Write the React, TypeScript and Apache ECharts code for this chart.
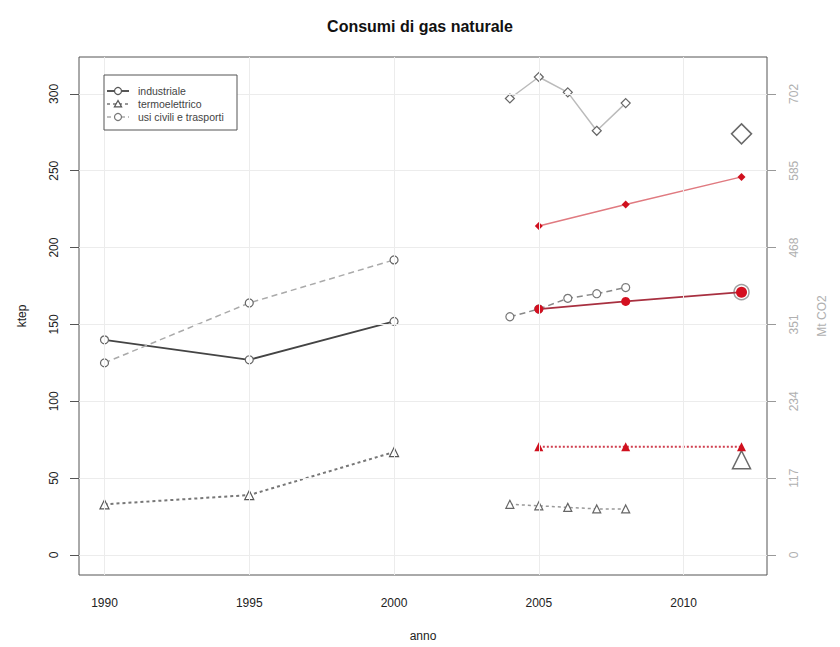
import React, { useEffect, useRef } from "react";
import * as echarts from "echarts";

const titleText = "Consumi di gas naturale";
const xTicks = [1990, 1995, 2000, 2005, 2010];
const leftTicks = [0, 50, 100, 150, 200, 250, 300];
const rightTicks = [0, 117, 234, 351, 468, 585, 702];
const co2Factor = 2.34;

const years1 = [1990, 1995, 2000];
const industriale1 = [140, 127, 152];
const usiCivili1 = [125, 164, 192];
const termo1 = [33, 39, 67];

const years2 = [2004, 2005, 2006, 2007, 2008];
const upper2 = [297, 311, 301, 276, 294];
const middle2 = [155, 160, 167, 170, 174];
const lower2 = [33, 32, 31, 30, 30];

const yearsRed = [2005, 2008, 2012];
const redDiamond = [214, 228, 246];
const redCircle = [160, 165, 171];
const redTriangle = [70.5, 70.5, 70.5];

const targetYear = 2012;
const targetDiamond = 274;
const targetCircle = 171;
const targetTriangle = 62;

const legendNames = ["industriale", "termoelettrico", "usi civili e trasporti"];

const pairs = (xs: number[], ys: number[]) => xs.map((x, i) => [x, ys[i]]);

const FONT = "Liberation Sans, Arial, Helvetica, sans-serif";

export default function App() {
  const ref = useRef<HTMLDivElement>(null);
  useEffect(() => {
    if (!ref.current) return;
    const chart = echarts.init(ref.current, undefined, { renderer: "svg" });
    const openItem = (border: string, w = 1.2) => ({
      color: "#ffffff",
      borderColor: border,
      borderWidth: w,
    });
    const legendX1 = 107;
    const legendX2 = 129;
    const legendMX = 118;
    const rows = [91, 104, 117];
    const tri = (cx: number, cy: number, s: number) => [
      [cx, cy - s],
      [cx - s * 0.9, cy + s * 0.6],
      [cx + s * 0.9, cy + s * 0.6],
    ];
    const option: any = {
      animation: false,
      backgroundColor: "#ffffff",
      textStyle: { fontFamily: FONT },
      title: {
        text: titleText,
        left: "center",
        top: 13,
        textStyle: { fontSize: 16, fontWeight: "bold", color: "#111", fontFamily: FONT },
      },
      grid: {
        left: 79,
        right: 73,
        top: 57,
        bottom: 71,
        show: true,
        borderColor: "#555",
        borderWidth: 1,
        backgroundColor: "transparent",
      },
      xAxis: {
        type: "value",
        min: 1989.12,
        max: 2012.88,
        name: "anno",
        nameLocation: "middle",
        nameGap: 55,
        nameTextStyle: { fontSize: 12, color: "#222", fontFamily: FONT },
        axisLine: { show: false },
        axisTick: { show: true, length: 9, customValues: xTicks, lineStyle: { color: "#555" } },
        axisLabel: {
          customValues: xTicks,
          margin: 22,
          fontSize: 12,
          color: "#222",
          fontFamily: FONT,
          formatter: (v: number) => String(v),
        },
        splitLine: { show: false },
      },
      yAxis: [
        {
          type: "value",
          position: "left",
          min: -13,
          max: 324,
          name: "ktep",
          nameLocation: "middle",
          nameGap: 51,
          nameRotate: 90,
          nameTextStyle: { fontSize: 12, color: "#222", fontFamily: FONT },
          axisLine: { show: false },
          axisTick: { show: true, length: 9, customValues: leftTicks, lineStyle: { color: "#555" } },
          axisLabel: {
            customValues: leftTicks,
            rotate: 90,
            margin: 19,
            fontSize: 12,
            color: "#222",
            fontFamily: FONT,
            formatter: (v: number) => String(v),
          },
          splitLine: { show: false },
        },
        {
          type: "value",
          position: "right",
          min: -13 * co2Factor,
          max: 324 * co2Factor,
          name: "Mt CO2",
          nameLocation: "middle",
          nameGap: 49,
          nameRotate: 90,
          nameTextStyle: { fontSize: 12, color: "#b0b0b0", fontFamily: FONT },
          axisLine: { show: false },
          axisTick: { show: true, length: 9, customValues: rightTicks, lineStyle: { color: "#999" } },
          axisLabel: {
            customValues: rightTicks,
            rotate: 90,
            margin: 21,
            fontSize: 12,
            color: "#b0b0b0",
            fontFamily: FONT,
            formatter: (v: number) => String(v),
          },
          splitLine: { show: false },
        },
      ],
      graphic: [
        {
          type: "group",
          z: 100,
          children: [
            {
              type: "rect",
              z: 100,
              shape: { x: 104, y: 75, width: 133, height: 55 },
              style: { fill: "#fff", stroke: "#555", lineWidth: 1 },
            },
            {
              type: "line",
              z: 101,
              shape: { x1: legendX1, y1: rows[0], x2: legendX2, y2: rows[0] },
              style: { stroke: "#444", lineWidth: 1.8 },
            },
            {
              type: "circle",
              z: 102,
              shape: { cx: legendMX, cy: rows[0], r: 3.5 },
              style: { fill: "#fff", stroke: "#555", lineWidth: 1.2 },
            },
            {
              type: "line",
              z: 101,
              shape: { x1: legendX1, y1: rows[1], x2: legendX2, y2: rows[1] },
              style: { stroke: "#777", lineWidth: 1.5, lineDash: [3, 3] },
            },
            {
              type: "polygon",
              z: 102,
              shape: { points: tri(legendMX, rows[1] + 0.5, 4) },
              style: { fill: "#fff", stroke: "#555", lineWidth: 1.2 },
            },
            {
              type: "line",
              z: 101,
              shape: { x1: legendX1, y1: rows[2], x2: legendX2, y2: rows[2] },
              style: { stroke: "#aaa", lineWidth: 1.5, lineDash: [4, 3] },
            },
            {
              type: "circle",
              z: 102,
              shape: { cx: legendMX, cy: rows[2], r: 3.5 },
              style: { fill: "#fff", stroke: "#777", lineWidth: 1.2 },
            },
            ...legendNames.map((t, i) => ({
              type: "text",
              z: 102,
              x: 138,
              y: rows[i],
              style: {
                text: t,
                fill: "#444",
                font: `10.5px ${FONT}`,
                verticalAlign: "middle",
                align: "left",
              },
            })),
          ],
        },
      ],
      series: [
        {
          name: "grid",
          type: "line",
          data: [[1990, 0]],
          showSymbol: false,
          lineStyle: { width: 0 },
          silent: true,
          z: 0,
          markLine: {
            silent: true,
            symbol: "none",
            label: { show: false },
            lineStyle: { color: "#ececec", width: 1, type: "solid" },
            data: [
              ...xTicks.map((x) => ({ xAxis: x })),
              ...leftTicks.map((y) => ({ yAxis: y })),
            ],
          },
        },
        {
          name: "industriale",
          type: "line",
          data: pairs(years1, industriale1),
          symbol: "circle",
          symbolSize: 8,
          lineStyle: { color: "#444", width: 1.8 },
          itemStyle: openItem("#666"),
        },
        {
          name: "usi civili e trasporti",
          type: "line",
          data: pairs(years1, usiCivili1),
          symbol: "circle",
          symbolSize: 8,
          lineStyle: { color: "#aaa", width: 1.5, type: [6, 4] },
          itemStyle: openItem("#666"),
        },
        {
          name: "termoelettrico",
          type: "line",
          data: pairs(years1, termo1),
          symbol: "triangle",
          symbolSize: 9,
          lineStyle: { color: "#777", width: 2, type: [3, 3] },
          itemStyle: openItem("#555"),
        },
        {
          name: "usi civili e trasporti 2004-2008",
          type: "line",
          data: pairs(years2, upper2),
          symbol: "diamond",
          symbolSize: 9,
          lineStyle: { color: "#bbb", width: 1.5 },
          itemStyle: openItem("#666"),
        },
        {
          name: "industriale 2004-2008",
          type: "line",
          data: pairs(years2, middle2),
          symbol: "circle",
          symbolSize: 8,
          lineStyle: { color: "#888", width: 1.5, type: [6, 4] },
          itemStyle: openItem("#777"),
        },
        {
          name: "termoelettrico 2004-2008",
          type: "line",
          data: pairs(years2, lower2),
          symbol: "triangle",
          symbolSize: 8,
          lineStyle: { color: "#999", width: 1.5, type: [3, 3] },
          itemStyle: openItem("#666"),
        },
        {
          name: "proiezione diamond",
          type: "line",
          data: pairs(yearsRed, redDiamond),
          symbol: "diamond",
          symbolSize: 8,
          lineStyle: { color: "#e07a80", width: 1.5 },
          itemStyle: { color: "#d0101e" },
        },
        {
          name: "proiezione circle",
          type: "line",
          data: pairs(yearsRed, redCircle).map((p, i) => ({
            value: p,
            symbolSize: i === yearsRed.length - 1 ? 11 : 9,
          })),
          symbol: "circle",
          lineStyle: { color: "#a83040", width: 1.8 },
          itemStyle: { color: "#d41020" },
        },
        {
          name: "proiezione triangle",
          type: "line",
          data: pairs(yearsRed, redTriangle),
          symbol: "triangle",
          symbolSize: 9,
          lineStyle: { color: "#d04050", width: 2, type: [2, 2] },
          itemStyle: { color: "#d0101e" },
        },
        {
          name: "obiettivi",
          type: "scatter",
          data: [
            { value: [targetYear, targetDiamond], symbol: "diamond", symbolSize: 20, itemStyle: { color: "rgba(0,0,0,0)", borderColor: "#444", borderWidth: 1.5 } },
            { value: [targetYear, targetCircle], symbol: "circle", symbolSize: 15, itemStyle: { color: "rgba(0,0,0,0)", borderColor: "#888", borderWidth: 1.5 } },
            { value: [targetYear, targetTriangle], symbol: "triangle", symbolSize: 18, itemStyle: { color: "rgba(0,0,0,0)", borderColor: "#444", borderWidth: 1.5 } },
          ],
        },
      ],
    };
    chart.setOption(option);
    return () => chart.dispose();
  }, []);
  return <div ref={ref} style={{ width: 840, height: 647, position: "absolute", left: 0, top: 0 }} />;
}
